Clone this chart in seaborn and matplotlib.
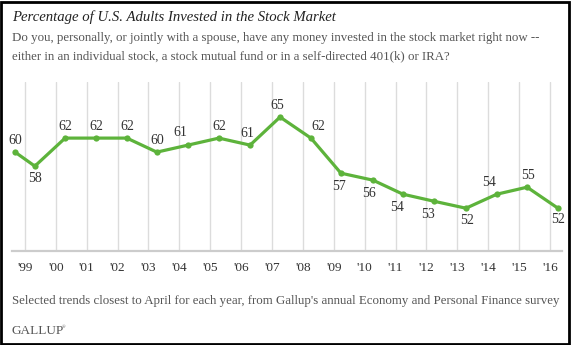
import matplotlib
matplotlib.use("Agg")
import matplotlib.pyplot as plt
import seaborn as sns
import pandas as pd
from matplotlib.patches import Rectangle

# ---- data ----
years = [1998.68, 1999.32, 2000.30, 2001.30, 2002.30, 2003.27, 2004.28, 2005.28,
         2006.29, 2007.26, 2008.26, 2009.23, 2010.27, 2011.24, 2012.24, 2013.28,
         2014.28, 2015.26, 2016.26]
values = [60, 58, 62, 62, 62, 60, 61, 62, 61, 65, 62, 57, 56, 54, 53, 52, 54, 55, 52]
tick_years = list(range(1999, 2017))
tick_labels = ["'99", "'00", "'01", "'02", "'03", "'04", "'05", "'06", "'07", "'08",
               "'09", "'10", "'11", "'12", "'13", "'14", "'15", "'16"]

title = "Percentage of U.S. Adults Invested in the Stock Market"
subtitle_lines = ["Do you, personally, or jointly with a spouse, have any money invested in the stock market right now --",
                  "either in an individual stock, a stock mutual fund or in a self-directed 401(k) or IRA?"]
footer = "Selected trends closest to April for each year, from Gallup's annual Economy and Personal Finance survey"

df = pd.DataFrame({"year": years, "pct": values})

sns.set_style("white")
plt.rcParams["font.family"] = ["Liberation Serif", "DejaVu Serif"]

green = "#5db33b"
fig = plt.figure(figsize=(5.71, 3.45), dpi=100)
ax = fig.add_axes([12/571, (345-251)/345, 550/571, (251-82)/345])

for t in tick_years:
    ax.axvline(t, color="#dcdcdc", lw=1.0, zorder=0)

sns.lineplot(data=df, x="year", y="pct", ax=ax, color=green, linewidth=2.3,
             marker="o", markersize=4.5, markeredgewidth=0, zorder=3)

# label placement: offsets in pixels (dx, dy)
offsets = [(0, 12), (0, -12), (0, 12), (0, 12), (0, 12), (0, 12), (-8, 13), (0, 12),
           (-3, 12), (-3, 12), (7, 12), (-2, -13), (-4, -13), (-6, -13), (-6, -13),
           (1, -12), (-8, 12), (1, 12), (0, -11)]
for x, y, (dx, dy) in zip(years, values, offsets):
    ax.annotate(str(y), (x, y), xytext=(dx, dy), textcoords="offset pixels",
                ha="center", va="center", fontsize=10, color="#333333")

ax.set_xlim(1998.58, 2016.39)
ax.set_ylim(45.9, 70)
ax.set_xticks(tick_years)
ax.set_xticklabels(tick_labels, fontsize=9.5, color="#333333")
ax.set_yticks([])
ax.set_xlabel("")
ax.set_ylabel("")
ax.tick_params(axis="x", length=0, pad=8)
for s in ["top", "left", "right"]:
    ax.spines[s].set_visible(False)
ax.spines["bottom"].set_color("#cccccc")
ax.spines["bottom"].set_linewidth(1.6)

fig.text(12/571, 1 - 17/345, title, fontsize=10.6, style="italic", color="#222222",
         va="center", ha="left")
for i, line in enumerate(subtitle_lines):
    fig.text(12/571, 1 - (38 + 18 * i)/345, line, fontsize=9.3, color="#555555",
             va="center", ha="left")
fig.text(12/571, 1 - 301/345, footer, fontsize=9.25, color="#555555",
         va="center", ha="left")
fig.text(11/571, 1 - 331/345, "GALLUP", fontsize=9.5, color="#555555",
         va="center", ha="left")
fig.text(62/571, 1 - 327/345, "\u00ae", fontsize=3.5, color="#555555",
         va="center", ha="left")

# outer black frame
fig.patches.append(Rectangle((1/571, 1/345), 568/571, 342/345, transform=fig.transFigure,
                             fill=False, edgecolor="black", linewidth=2.0))

fig.savefig("out.png", dpi=100)
